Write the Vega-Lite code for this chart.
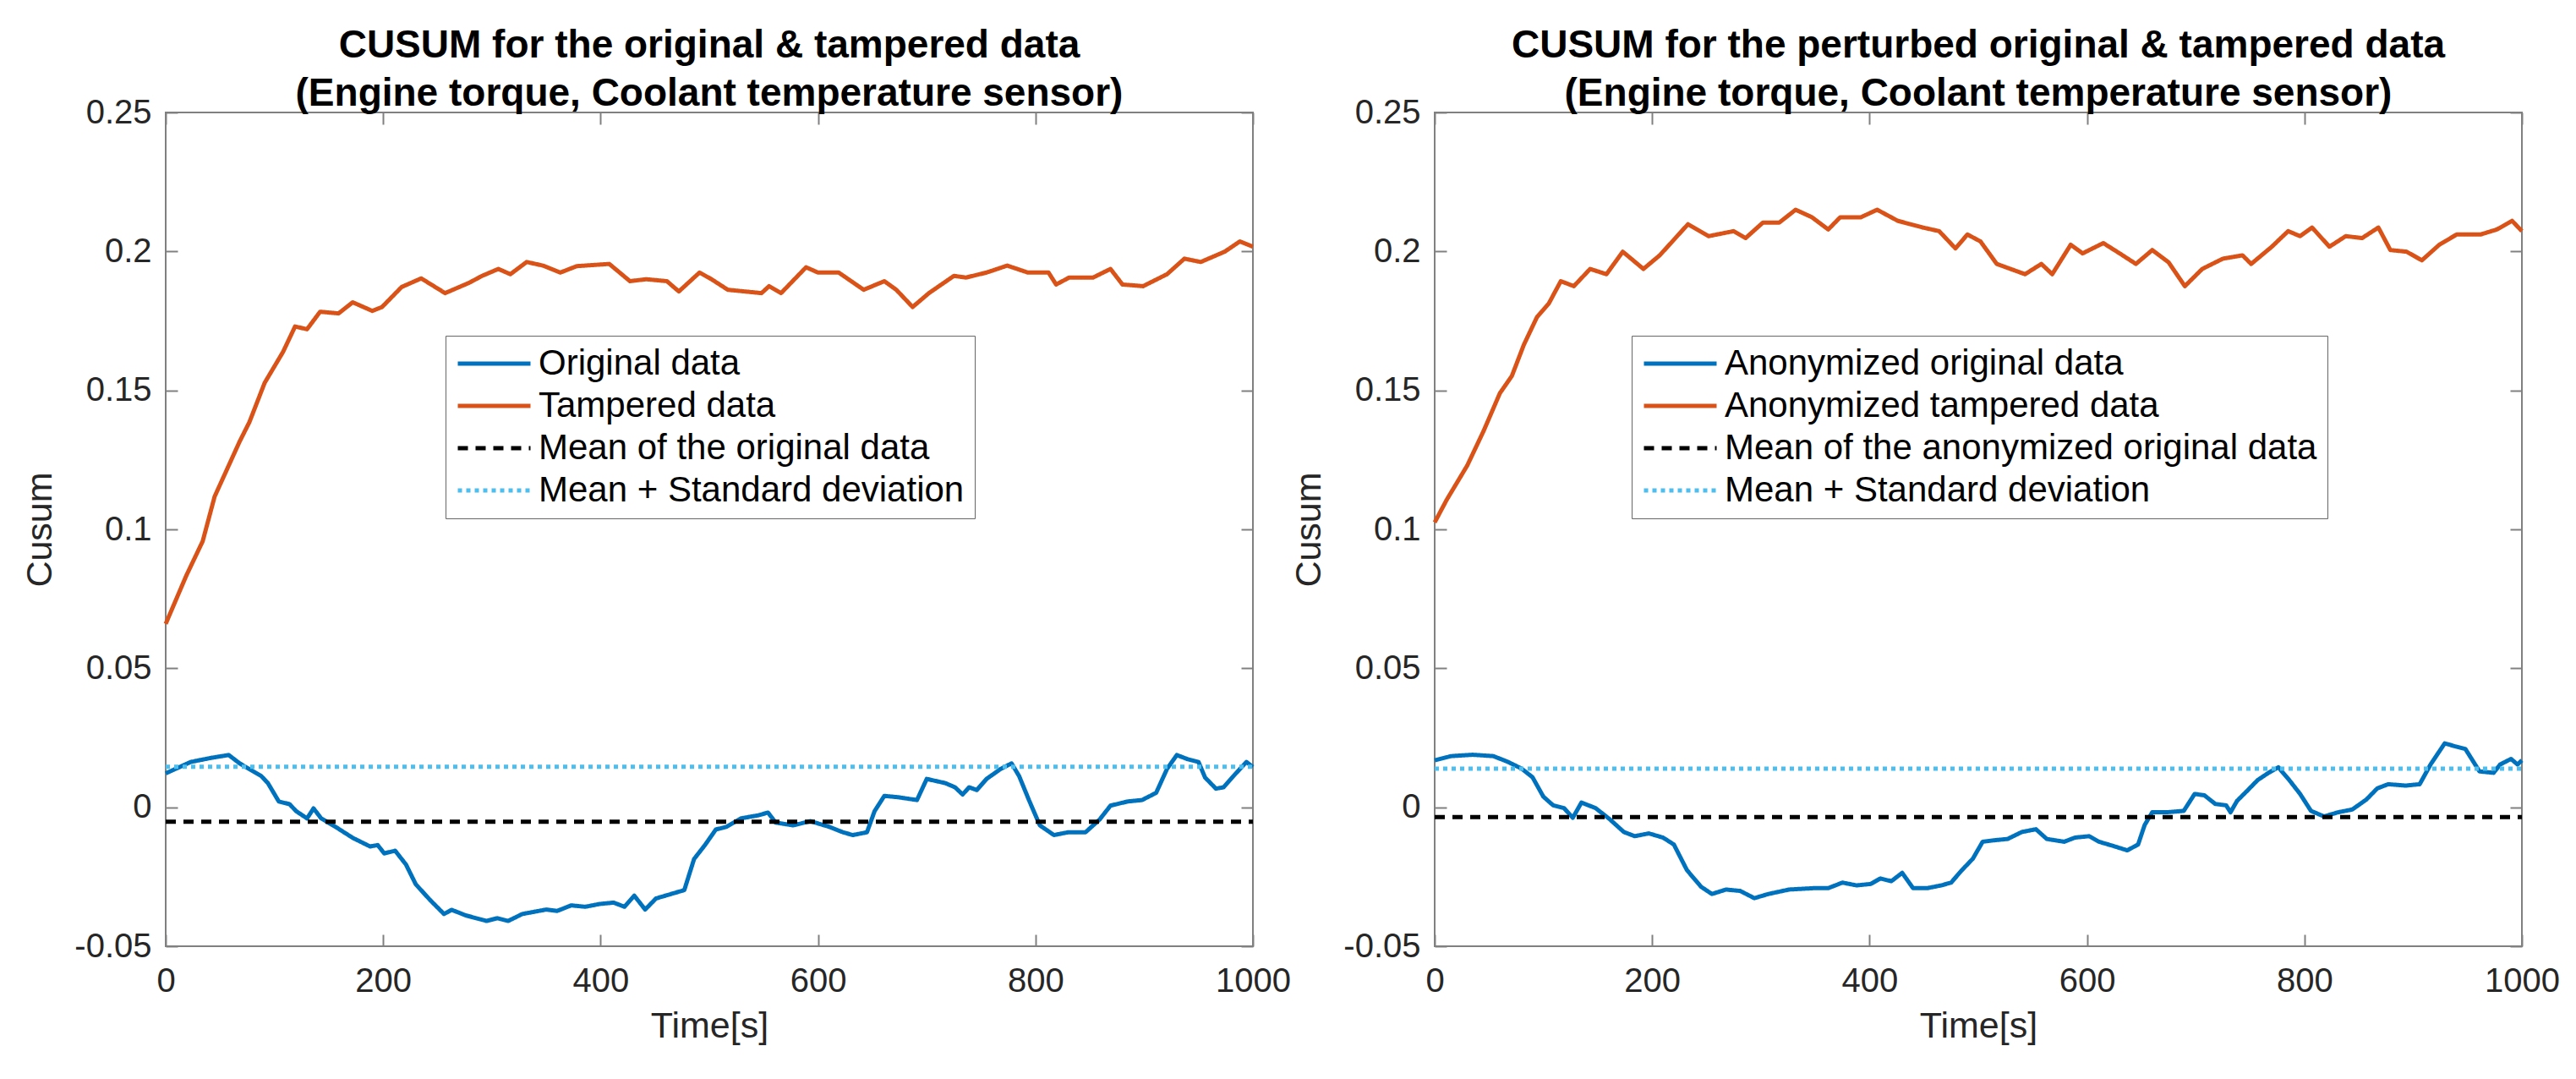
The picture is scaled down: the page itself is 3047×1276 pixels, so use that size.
{
  "$schema": "https://vega.github.io/schema/vega-lite/v6.json",
  "background": "white",
  "padding": {"left": 25, "top": 30, "right": 10, "bottom": 10},
  "spacing": 215,
  "bounds": "flush",
  "datasets": {
    "leftLines": [
      {"s": "Tampered data", "t": 0, "v": 0.066},
      {"s": "Tampered data", "t": 19, "v": 0.0834},
      {"s": "Tampered data", "t": 34, "v": 0.0957},
      {"s": "Tampered data", "t": 45, "v": 0.1118},
      {"s": "Tampered data", "t": 68, "v": 0.1316},
      {"s": "Tampered data", "t": 77, "v": 0.1386},
      {"s": "Tampered data", "t": 91, "v": 0.1527},
      {"s": "Tampered data", "t": 108, "v": 0.1639},
      {"s": "Tampered data", "t": 119, "v": 0.173},
      {"s": "Tampered data", "t": 130, "v": 0.172},
      {"s": "Tampered data", "t": 142, "v": 0.1783},
      {"s": "Tampered data", "t": 159, "v": 0.1777},
      {"s": "Tampered data", "t": 172, "v": 0.1817},
      {"s": "Tampered data", "t": 190, "v": 0.1786},
      {"s": "Tampered data", "t": 199, "v": 0.180},
      {"s": "Tampered data", "t": 217, "v": 0.1872},
      {"s": "Tampered data", "t": 235, "v": 0.1903},
      {"s": "Tampered data", "t": 257, "v": 0.185},
      {"s": "Tampered data", "t": 279, "v": 0.1887},
      {"s": "Tampered data", "t": 291, "v": 0.1912},
      {"s": "Tampered data", "t": 306, "v": 0.1937},
      {"s": "Tampered data", "t": 317, "v": 0.1918},
      {"s": "Tampered data", "t": 332, "v": 0.1962},
      {"s": "Tampered data", "t": 347, "v": 0.1949},
      {"s": "Tampered data", "t": 363, "v": 0.1924},
      {"s": "Tampered data", "t": 378, "v": 0.1947},
      {"s": "Tampered data", "t": 408, "v": 0.1955},
      {"s": "Tampered data", "t": 427, "v": 0.1893},
      {"s": "Tampered data", "t": 442, "v": 0.19},
      {"s": "Tampered data", "t": 461, "v": 0.1893},
      {"s": "Tampered data", "t": 472, "v": 0.1856},
      {"s": "Tampered data", "t": 491, "v": 0.1924},
      {"s": "Tampered data", "t": 502, "v": 0.19},
      {"s": "Tampered data", "t": 517, "v": 0.1862},
      {"s": "Tampered data", "t": 548, "v": 0.185},
      {"s": "Tampered data", "t": 555, "v": 0.1875},
      {"s": "Tampered data", "t": 566, "v": 0.185},
      {"s": "Tampered data", "t": 589, "v": 0.1943},
      {"s": "Tampered data", "t": 600, "v": 0.1924},
      {"s": "Tampered data", "t": 619, "v": 0.1924},
      {"s": "Tampered data", "t": 642, "v": 0.1862},
      {"s": "Tampered data", "t": 661, "v": 0.1893},
      {"s": "Tampered data", "t": 672, "v": 0.1862},
      {"s": "Tampered data", "t": 687, "v": 0.18},
      {"s": "Tampered data", "t": 702, "v": 0.185},
      {"s": "Tampered data", "t": 725, "v": 0.1912},
      {"s": "Tampered data", "t": 736, "v": 0.1906},
      {"s": "Tampered data", "t": 755, "v": 0.1924},
      {"s": "Tampered data", "t": 774, "v": 0.1949},
      {"s": "Tampered data", "t": 793, "v": 0.1924},
      {"s": "Tampered data", "t": 812, "v": 0.1924},
      {"s": "Tampered data", "t": 819, "v": 0.1881},
      {"s": "Tampered data", "t": 831, "v": 0.1906},
      {"s": "Tampered data", "t": 853, "v": 0.1906},
      {"s": "Tampered data", "t": 869, "v": 0.1937},
      {"s": "Tampered data", "t": 880, "v": 0.1881},
      {"s": "Tampered data", "t": 899, "v": 0.1875},
      {"s": "Tampered data", "t": 921, "v": 0.1918},
      {"s": "Tampered data", "t": 937, "v": 0.1974},
      {"s": "Tampered data", "t": 952, "v": 0.1962},
      {"s": "Tampered data", "t": 974, "v": 0.1999},
      {"s": "Tampered data", "t": 988, "v": 0.2036},
      {"s": "Tampered data", "t": 1000, "v": 0.2017},
      {"s": "Original data", "t": 0, "v": 0.0122},
      {"s": "Original data", "t": 23, "v": 0.0163},
      {"s": "Original data", "t": 42, "v": 0.0178},
      {"s": "Original data", "t": 58, "v": 0.0188},
      {"s": "Original data", "t": 68, "v": 0.0158},
      {"s": "Original data", "t": 88, "v": 0.0112},
      {"s": "Original data", "t": 94, "v": 0.0087},
      {"s": "Original data", "t": 104, "v": 0.0021},
      {"s": "Original data", "t": 114, "v": 0.0011},
      {"s": "Original data", "t": 120, "v": -0.0014},
      {"s": "Original data", "t": 130, "v": -0.004},
      {"s": "Original data", "t": 136, "v": -0.0004},
      {"s": "Original data", "t": 143, "v": -0.004},
      {"s": "Original data", "t": 156, "v": -0.007},
      {"s": "Original data", "t": 172, "v": -0.011},
      {"s": "Original data", "t": 188, "v": -0.0141},
      {"s": "Original data", "t": 195, "v": -0.0136},
      {"s": "Original data", "t": 201, "v": -0.0166},
      {"s": "Original data", "t": 211, "v": -0.0156},
      {"s": "Original data", "t": 221, "v": -0.0206},
      {"s": "Original data", "t": 230, "v": -0.0277},
      {"s": "Original data", "t": 243, "v": -0.0333},
      {"s": "Original data", "t": 256, "v": -0.0384},
      {"s": "Original data", "t": 263, "v": -0.0369},
      {"s": "Original data", "t": 276, "v": -0.0389},
      {"s": "Original data", "t": 295, "v": -0.0409},
      {"s": "Original data", "t": 305, "v": -0.0399},
      {"s": "Original data", "t": 315, "v": -0.0409},
      {"s": "Original data", "t": 328, "v": -0.0384},
      {"s": "Original data", "t": 350, "v": -0.0368},
      {"s": "Original data", "t": 360, "v": -0.0373},
      {"s": "Original data", "t": 373, "v": -0.0353},
      {"s": "Original data", "t": 386, "v": -0.0358},
      {"s": "Original data", "t": 399, "v": -0.0348},
      {"s": "Original data", "t": 412, "v": -0.0343},
      {"s": "Original data", "t": 422, "v": -0.0358},
      {"s": "Original data", "t": 431, "v": -0.0318},
      {"s": "Original data", "t": 441, "v": -0.0368},
      {"s": "Original data", "t": 451, "v": -0.0328},
      {"s": "Original data", "t": 464, "v": -0.0313},
      {"s": "Original data", "t": 477, "v": -0.0298},
      {"s": "Original data", "t": 486, "v": -0.0186},
      {"s": "Original data", "t": 496, "v": -0.0136},
      {"s": "Original data", "t": 506, "v": -0.008},
      {"s": "Original data", "t": 516, "v": -0.007},
      {"s": "Original data", "t": 529, "v": -0.004},
      {"s": "Original data", "t": 545, "v": -0.0029},
      {"s": "Original data", "t": 554, "v": -0.0019},
      {"s": "Original data", "t": 561, "v": -0.0055},
      {"s": "Original data", "t": 577, "v": -0.0065},
      {"s": "Original data", "t": 593, "v": -0.005},
      {"s": "Original data", "t": 610, "v": -0.007},
      {"s": "Original data", "t": 623, "v": -0.009},
      {"s": "Original data", "t": 632, "v": -0.01},
      {"s": "Original data", "t": 645, "v": -0.009},
      {"s": "Original data", "t": 652, "v": -0.0014},
      {"s": "Original data", "t": 661, "v": 0.0041},
      {"s": "Original data", "t": 674, "v": 0.0036},
      {"s": "Original data", "t": 691, "v": 0.0026},
      {"s": "Original data", "t": 700, "v": 0.0102},
      {"s": "Original data", "t": 717, "v": 0.0087},
      {"s": "Original data", "t": 726, "v": 0.0072},
      {"s": "Original data", "t": 733, "v": 0.0046},
      {"s": "Original data", "t": 739, "v": 0.0072},
      {"s": "Original data", "t": 746, "v": 0.0062},
      {"s": "Original data", "t": 755, "v": 0.0102},
      {"s": "Original data", "t": 768, "v": 0.0138},
      {"s": "Original data", "t": 778, "v": 0.0158},
      {"s": "Original data", "t": 785, "v": 0.0112},
      {"s": "Original data", "t": 794, "v": 0.0026},
      {"s": "Original data", "t": 804, "v": -0.0065},
      {"s": "Original data", "t": 817, "v": -0.01},
      {"s": "Original data", "t": 830, "v": -0.009},
      {"s": "Original data", "t": 846, "v": -0.009},
      {"s": "Original data", "t": 859, "v": -0.0044},
      {"s": "Original data", "t": 869, "v": 0.0006},
      {"s": "Original data", "t": 885, "v": 0.0021},
      {"s": "Original data", "t": 898, "v": 0.0026},
      {"s": "Original data", "t": 911, "v": 0.0052},
      {"s": "Original data", "t": 921, "v": 0.0138},
      {"s": "Original data", "t": 930, "v": 0.0188},
      {"s": "Original data", "t": 940, "v": 0.0173},
      {"s": "Original data", "t": 950, "v": 0.0163},
      {"s": "Original data", "t": 956, "v": 0.0107},
      {"s": "Original data", "t": 966, "v": 0.0067},
      {"s": "Original data", "t": 973, "v": 0.0072},
      {"s": "Original data", "t": 982, "v": 0.0112},
      {"s": "Original data", "t": 994, "v": 0.0163},
      {"s": "Original data", "t": 1000, "v": 0.0145}
    ],
    "leftMeans": [
      {"s": "Mean of the original data", "t0": 0, "t1": 1000, "v": -0.0052},
      {"s": "Mean + Standard deviation", "t0": 0, "t1": 1000, "v": 0.0146}
    ],
    "rightLines": [
      {"s": "Anonymized tampered data", "t": 0, "v": 0.1025},
      {"s": "Anonymized tampered data", "t": 11, "v": 0.1106},
      {"s": "Anonymized tampered data", "t": 30, "v": 0.123},
      {"s": "Anonymized tampered data", "t": 45, "v": 0.1354},
      {"s": "Anonymized tampered data", "t": 60, "v": 0.149},
      {"s": "Anonymized tampered data", "t": 71, "v": 0.1552},
      {"s": "Anonymized tampered data", "t": 82, "v": 0.1664},
      {"s": "Anonymized tampered data", "t": 94, "v": 0.1763},
      {"s": "Anonymized tampered data", "t": 105, "v": 0.1813},
      {"s": "Anonymized tampered data", "t": 116, "v": 0.1893},
      {"s": "Anonymized tampered data", "t": 128, "v": 0.1875},
      {"s": "Anonymized tampered data", "t": 143, "v": 0.1937},
      {"s": "Anonymized tampered data", "t": 158, "v": 0.1918},
      {"s": "Anonymized tampered data", "t": 173, "v": 0.1999},
      {"s": "Anonymized tampered data", "t": 192, "v": 0.1937},
      {"s": "Anonymized tampered data", "t": 207, "v": 0.1986},
      {"s": "Anonymized tampered data", "t": 233, "v": 0.2098},
      {"s": "Anonymized tampered data", "t": 252, "v": 0.2055},
      {"s": "Anonymized tampered data", "t": 275, "v": 0.2073},
      {"s": "Anonymized tampered data", "t": 286, "v": 0.2048},
      {"s": "Anonymized tampered data", "t": 302, "v": 0.2104},
      {"s": "Anonymized tampered data", "t": 317, "v": 0.2104},
      {"s": "Anonymized tampered data", "t": 332, "v": 0.215},
      {"s": "Anonymized tampered data", "t": 347, "v": 0.2123},
      {"s": "Anonymized tampered data", "t": 362, "v": 0.2079},
      {"s": "Anonymized tampered data", "t": 373, "v": 0.2123},
      {"s": "Anonymized tampered data", "t": 392, "v": 0.2123},
      {"s": "Anonymized tampered data", "t": 407, "v": 0.215},
      {"s": "Anonymized tampered data", "t": 426, "v": 0.211},
      {"s": "Anonymized tampered data", "t": 449, "v": 0.2086},
      {"s": "Anonymized tampered data", "t": 464, "v": 0.2073},
      {"s": "Anonymized tampered data", "t": 479, "v": 0.2011},
      {"s": "Anonymized tampered data", "t": 490, "v": 0.2061},
      {"s": "Anonymized tampered data", "t": 502, "v": 0.2036},
      {"s": "Anonymized tampered data", "t": 517, "v": 0.1955},
      {"s": "Anonymized tampered data", "t": 543, "v": 0.1918},
      {"s": "Anonymized tampered data", "t": 558, "v": 0.1955},
      {"s": "Anonymized tampered data", "t": 568, "v": 0.1918},
      {"s": "Anonymized tampered data", "t": 585, "v": 0.2024},
      {"s": "Anonymized tampered data", "t": 596, "v": 0.1993},
      {"s": "Anonymized tampered data", "t": 615, "v": 0.203},
      {"s": "Anonymized tampered data", "t": 630, "v": 0.1993},
      {"s": "Anonymized tampered data", "t": 645, "v": 0.1955},
      {"s": "Anonymized tampered data", "t": 660, "v": 0.2005},
      {"s": "Anonymized tampered data", "t": 675, "v": 0.1961},
      {"s": "Anonymized tampered data", "t": 690, "v": 0.1875},
      {"s": "Anonymized tampered data", "t": 706, "v": 0.1937},
      {"s": "Anonymized tampered data", "t": 725, "v": 0.1974},
      {"s": "Anonymized tampered data", "t": 743, "v": 0.1986},
      {"s": "Anonymized tampered data", "t": 751, "v": 0.1955},
      {"s": "Anonymized tampered data", "t": 770, "v": 0.2017},
      {"s": "Anonymized tampered data", "t": 785, "v": 0.2073},
      {"s": "Anonymized tampered data", "t": 796, "v": 0.2055},
      {"s": "Anonymized tampered data", "t": 807, "v": 0.2086},
      {"s": "Anonymized tampered data", "t": 823, "v": 0.2017},
      {"s": "Anonymized tampered data", "t": 838, "v": 0.2055},
      {"s": "Anonymized tampered data", "t": 853, "v": 0.2048},
      {"s": "Anonymized tampered data", "t": 868, "v": 0.2086},
      {"s": "Anonymized tampered data", "t": 879, "v": 0.2005},
      {"s": "Anonymized tampered data", "t": 894, "v": 0.1999},
      {"s": "Anonymized tampered data", "t": 908, "v": 0.1968},
      {"s": "Anonymized tampered data", "t": 924, "v": 0.2024},
      {"s": "Anonymized tampered data", "t": 940, "v": 0.2061},
      {"s": "Anonymized tampered data", "t": 962, "v": 0.2061},
      {"s": "Anonymized tampered data", "t": 977, "v": 0.2079},
      {"s": "Anonymized tampered data", "t": 991, "v": 0.211},
      {"s": "Anonymized tampered data", "t": 1000, "v": 0.2073},
      {"s": "Anonymized original data", "t": 0, "v": 0.0169},
      {"s": "Anonymized original data", "t": 15, "v": 0.0184},
      {"s": "Anonymized original data", "t": 35, "v": 0.0189},
      {"s": "Anonymized original data", "t": 54, "v": 0.0184},
      {"s": "Anonymized original data", "t": 67, "v": 0.0164},
      {"s": "Anonymized original data", "t": 80, "v": 0.0139},
      {"s": "Anonymized original data", "t": 90, "v": 0.0108},
      {"s": "Anonymized original data", "t": 100, "v": 0.0038},
      {"s": "Anonymized original data", "t": 109, "v": 0.0007},
      {"s": "Anonymized original data", "t": 119, "v": -0.0003},
      {"s": "Anonymized original data", "t": 127, "v": -0.0038},
      {"s": "Anonymized original data", "t": 135, "v": 0.0017},
      {"s": "Anonymized original data", "t": 148, "v": -0.0003},
      {"s": "Anonymized original data", "t": 161, "v": -0.0043},
      {"s": "Anonymized original data", "t": 174, "v": -0.0089},
      {"s": "Anonymized original data", "t": 184, "v": -0.0104},
      {"s": "Anonymized original data", "t": 197, "v": -0.0094},
      {"s": "Anonymized original data", "t": 210, "v": -0.0109},
      {"s": "Anonymized original data", "t": 220, "v": -0.0134},
      {"s": "Anonymized original data", "t": 232, "v": -0.0226},
      {"s": "Anonymized original data", "t": 245, "v": -0.0286},
      {"s": "Anonymized original data", "t": 255, "v": -0.0312},
      {"s": "Anonymized original data", "t": 268, "v": -0.0296},
      {"s": "Anonymized original data", "t": 281, "v": -0.0301},
      {"s": "Anonymized original data", "t": 294, "v": -0.0327},
      {"s": "Anonymized original data", "t": 307, "v": -0.0312},
      {"s": "Anonymized original data", "t": 326, "v": -0.0296},
      {"s": "Anonymized original data", "t": 349, "v": -0.0291},
      {"s": "Anonymized original data", "t": 362, "v": -0.0291},
      {"s": "Anonymized original data", "t": 375, "v": -0.0271},
      {"s": "Anonymized original data", "t": 388, "v": -0.0281},
      {"s": "Anonymized original data", "t": 401, "v": -0.0276},
      {"s": "Anonymized original data", "t": 410, "v": -0.0256},
      {"s": "Anonymized original data", "t": 420, "v": -0.0266},
      {"s": "Anonymized original data", "t": 430, "v": -0.0236},
      {"s": "Anonymized original data", "t": 440, "v": -0.0291},
      {"s": "Anonymized original data", "t": 453, "v": -0.0291},
      {"s": "Anonymized original data", "t": 466, "v": -0.0281},
      {"s": "Anonymized original data", "t": 475, "v": -0.0271},
      {"s": "Anonymized original data", "t": 485, "v": -0.0226},
      {"s": "Anonymized original data", "t": 495, "v": -0.0185},
      {"s": "Anonymized original data", "t": 504, "v": -0.0124},
      {"s": "Anonymized original data", "t": 514, "v": -0.0119},
      {"s": "Anonymized original data", "t": 527, "v": -0.0114},
      {"s": "Anonymized original data", "t": 540, "v": -0.0089},
      {"s": "Anonymized original data", "t": 553, "v": -0.0079},
      {"s": "Anonymized original data", "t": 563, "v": -0.0114},
      {"s": "Anonymized original data", "t": 579, "v": -0.0124},
      {"s": "Anonymized original data", "t": 589, "v": -0.0109},
      {"s": "Anonymized original data", "t": 602, "v": -0.0104},
      {"s": "Anonymized original data", "t": 611, "v": -0.0124},
      {"s": "Anonymized original data", "t": 624, "v": -0.0139},
      {"s": "Anonymized original data", "t": 637, "v": -0.0155},
      {"s": "Anonymized original data", "t": 647, "v": -0.0134},
      {"s": "Anonymized original data", "t": 653, "v": -0.0064},
      {"s": "Anonymized original data", "t": 660, "v": -0.0018},
      {"s": "Anonymized original data", "t": 673, "v": -0.0018},
      {"s": "Anonymized original data", "t": 689, "v": -0.0013},
      {"s": "Anonymized original data", "t": 699, "v": 0.0048},
      {"s": "Anonymized original data", "t": 708, "v": 0.0043},
      {"s": "Anonymized original data", "t": 718, "v": 0.0012},
      {"s": "Anonymized original data", "t": 728, "v": 0.0007},
      {"s": "Anonymized original data", "t": 732, "v": -0.0018},
      {"s": "Anonymized original data", "t": 738, "v": 0.0023},
      {"s": "Anonymized original data", "t": 747, "v": 0.0058},
      {"s": "Anonymized original data", "t": 757, "v": 0.0098},
      {"s": "Anonymized original data", "t": 767, "v": 0.0124},
      {"s": "Anonymized original data", "t": 776, "v": 0.0144},
      {"s": "Anonymized original data", "t": 786, "v": 0.0098},
      {"s": "Anonymized original data", "t": 796, "v": 0.0048},
      {"s": "Anonymized original data", "t": 806, "v": -0.0013},
      {"s": "Anonymized original data", "t": 818, "v": -0.0033},
      {"s": "Anonymized original data", "t": 831, "v": -0.0018},
      {"s": "Anonymized original data", "t": 844, "v": -0.0008},
      {"s": "Anonymized original data", "t": 857, "v": 0.0028},
      {"s": "Anonymized original data", "t": 867, "v": 0.0068},
      {"s": "Anonymized original data", "t": 877, "v": 0.0083},
      {"s": "Anonymized original data", "t": 893, "v": 0.0078},
      {"s": "Anonymized original data", "t": 906, "v": 0.0083},
      {"s": "Anonymized original data", "t": 916, "v": 0.0154},
      {"s": "Anonymized original data", "t": 929, "v": 0.023},
      {"s": "Anonymized original data", "t": 938, "v": 0.022},
      {"s": "Anonymized original data", "t": 948, "v": 0.021},
      {"s": "Anonymized original data", "t": 961, "v": 0.0129},
      {"s": "Anonymized original data", "t": 974, "v": 0.0124},
      {"s": "Anonymized original data", "t": 980, "v": 0.0154},
      {"s": "Anonymized original data", "t": 990, "v": 0.0174},
      {"s": "Anonymized original data", "t": 996, "v": 0.0154},
      {"s": "Anonymized original data", "t": 1000, "v": 0.0169}
    ],
    "rightMeans": [
      {"s": "Mean of the anonymized original data", "t0": 0, "t1": 1000, "v": -0.0035},
      {"s": "Mean + Standard deviation", "t0": 0, "t1": 1000, "v": 0.0139}
    ]
  },
  "hconcat": [
    {
      "width": 1286,
      "height": 986,
      "title": {
        "text": ["CUSUM for the original & tampered data", "(Engine torque, Coolant temperature sensor)"],
        "fontSize": 46, "fontWeight": "bold", "color": "#000000", "font": "Liberation Sans",
        "lineHeight": 57, "anchor": "middle", "frame": "group", "offset": -22
      },
      "resolve": {"axis": {"x": "independent", "y": "independent"}},
      "layer": [
        {
          "data": {"name": "leftLines"},
          "mark": {"type": "line", "strokeJoin": "round"},
          "encoding": {
            "x": {"field": "t", "type": "quantitative", "scale": {"domain": [0, 1000], "nice": false, "zero": false},
              "axis": {"orient": "bottom", "values": [0, 200, 400, 600, 800, 1000], "labelExpr": "toString(datum.value)", "title": "Time[s]", "offset": -14, "labelPadding": 21, "titlePadding": 12}},
            "y": {"field": "v", "type": "quantitative", "scale": {"domain": [-0.05, 0.25], "nice": false, "zero": false},
              "axis": {"orient": "left", "values": [-0.05, 0, 0.05, 0.1, 0.15, 0.2, 0.25], "labelExpr": "toString(datum.value)", "title": "Cusum", "offset": -14, "labelPadding": 17, "titlePadding": 18}},
            "color": {"field": "s", "type": "nominal",
              "scale": {"domain": ["Original data", "Tampered data", "Mean of the original data", "Mean + Standard deviation"], "range": ["#0072BD", "#D95319", "#000000", "#4DBEEE"]},
              "legend": {"legendX": 331, "legendY": 264}},
            "strokeDash": {"field": "s", "type": "nominal",
              "scale": {"domain": ["Original data", "Tampered data", "Mean of the original data", "Mean + Standard deviation"], "range": [[1, 0], [1, 0], [12, 9], [5, 5]]},
              "legend": {"legendX": 331, "legendY": 264}},
            "strokeWidth": {"field": "s", "type": "ordinal",
              "scale": {"domain": ["Original data", "Tampered data", "Mean of the original data", "Mean + Standard deviation"], "range": [5, 5, 3, 5]},
              "legend": {"legendX": 331, "legendY": 264}}
          }
        },
        {
          "data": {"name": "leftMeans"},
          "mark": {"type": "rule"},
          "encoding": {
            "x": {"field": "t0", "type": "quantitative", "scale": {"domain": [0, 1000], "nice": false, "zero": false},
              "axis": {"orient": "top", "values": [0, 200, 400, 600, 800, 1000], "labels": false, "title": null, "offset": -14}},
            "x2": {"field": "t1"},
            "y": {"field": "v", "type": "quantitative", "scale": {"domain": [-0.05, 0.25], "nice": false, "zero": false},
              "axis": {"orient": "right", "values": [-0.05, 0, 0.05, 0.1, 0.15, 0.2, 0.25], "labels": false, "title": null, "offset": -14}},
            "color": {"field": "s", "type": "nominal",
              "scale": {"domain": ["Original data", "Tampered data", "Mean of the original data", "Mean + Standard deviation"], "range": ["#0072BD", "#D95319", "#000000", "#4DBEEE"]},
              "legend": {"legendX": 331, "legendY": 264}},
            "strokeDash": {"field": "s", "type": "nominal",
              "scale": {"domain": ["Original data", "Tampered data", "Mean of the original data", "Mean + Standard deviation"], "range": [[1, 0], [1, 0], [12, 9], [5, 5]]},
              "legend": {"legendX": 331, "legendY": 264}},
            "strokeWidth": {"field": "s", "type": "ordinal",
              "scale": {"domain": ["Original data", "Tampered data", "Mean of the original data", "Mean + Standard deviation"], "range": [5, 5, 3, 5]},
              "legend": {"legendX": 331, "legendY": 264}}
          }
        }
      ]
    },
    {
      "width": 1286,
      "height": 986,
      "title": {
        "text": ["CUSUM for the perturbed original & tampered data", "(Engine torque, Coolant temperature sensor)"],
        "fontSize": 46, "fontWeight": "bold", "color": "#000000", "font": "Liberation Sans",
        "lineHeight": 57, "anchor": "middle", "frame": "group", "offset": -22
      },
      "resolve": {"axis": {"x": "independent", "y": "independent"}},
      "layer": [
        {
          "data": {"name": "rightLines"},
          "mark": {"type": "line", "strokeJoin": "round"},
          "encoding": {
            "x": {"field": "t", "type": "quantitative", "scale": {"domain": [0, 1000], "nice": false, "zero": false},
              "axis": {"orient": "bottom", "values": [0, 200, 400, 600, 800, 1000], "labelExpr": "toString(datum.value)", "title": "Time[s]", "offset": -14, "labelPadding": 21, "titlePadding": 12}},
            "y": {"field": "v", "type": "quantitative", "scale": {"domain": [-0.05, 0.25], "nice": false, "zero": false},
              "axis": {"orient": "left", "values": [-0.05, 0, 0.05, 0.1, 0.15, 0.2, 0.25], "labelExpr": "toString(datum.value)", "title": "Cusum", "offset": -14, "labelPadding": 17, "titlePadding": 18}},
            "color": {"field": "s", "type": "nominal",
              "scale": {"domain": ["Anonymized original data", "Anonymized tampered data", "Mean of the anonymized original data", "Mean + Standard deviation"], "range": ["#0072BD", "#D95319", "#000000", "#4DBEEE"]},
              "legend": {"legendX": 233, "legendY": 264}},
            "strokeDash": {"field": "s", "type": "nominal",
              "scale": {"domain": ["Anonymized original data", "Anonymized tampered data", "Mean of the anonymized original data", "Mean + Standard deviation"], "range": [[1, 0], [1, 0], [12, 9], [5, 5]]},
              "legend": {"legendX": 233, "legendY": 264}},
            "strokeWidth": {"field": "s", "type": "ordinal",
              "scale": {"domain": ["Anonymized original data", "Anonymized tampered data", "Mean of the anonymized original data", "Mean + Standard deviation"], "range": [5, 5, 3, 5]},
              "legend": {"legendX": 233, "legendY": 264}}
          }
        },
        {
          "data": {"name": "rightMeans"},
          "mark": {"type": "rule"},
          "encoding": {
            "x": {"field": "t0", "type": "quantitative", "scale": {"domain": [0, 1000], "nice": false, "zero": false},
              "axis": {"orient": "top", "values": [0, 200, 400, 600, 800, 1000], "labels": false, "title": null, "offset": -14}},
            "x2": {"field": "t1"},
            "y": {"field": "v", "type": "quantitative", "scale": {"domain": [-0.05, 0.25], "nice": false, "zero": false},
              "axis": {"orient": "right", "values": [-0.05, 0, 0.05, 0.1, 0.15, 0.2, 0.25], "labels": false, "title": null, "offset": -14}},
            "color": {"field": "s", "type": "nominal",
              "scale": {"domain": ["Anonymized original data", "Anonymized tampered data", "Mean of the anonymized original data", "Mean + Standard deviation"], "range": ["#0072BD", "#D95319", "#000000", "#4DBEEE"]},
              "legend": {"legendX": 233, "legendY": 264}},
            "strokeDash": {"field": "s", "type": "nominal",
              "scale": {"domain": ["Anonymized original data", "Anonymized tampered data", "Mean of the anonymized original data", "Mean + Standard deviation"], "range": [[1, 0], [1, 0], [12, 9], [5, 5]]},
              "legend": {"legendX": 233, "legendY": 264}},
            "strokeWidth": {"field": "s", "type": "ordinal",
              "scale": {"domain": ["Anonymized original data", "Anonymized tampered data", "Mean of the anonymized original data", "Mean + Standard deviation"], "range": [5, 5, 3, 5]},
              "legend": {"legendX": 233, "legendY": 264}}
          }
        }
      ]
    }
  ],
  "resolve": {
    "scale": {"x": "independent", "y": "independent", "color": "independent", "strokeDash": "independent", "strokeWidth": "independent"},
    "legend": {"color": "independent", "strokeDash": "independent", "strokeWidth": "independent"}
  },
  "config": {
    "font": "Liberation Sans",
    "view": {"stroke": "#808080", "strokeWidth": 2},
    "axis": {
      "grid": false, "domain": false, "tickColor": "#808080", "tickWidth": 2, "tickSize": 14,
      "labelFont": "Liberation Sans", "labelFontSize": 40, "labelColor": "#262626", "labelFlush": false, "labelOverlap": false,
      "titleFont": "Liberation Sans", "titleFontSize": 43, "titleFontWeight": "normal", "titleColor": "#262626"
    },
    "legend": {
      "orient": "none", "title": null, "direction": "vertical",
      "symbolType": "stroke", "symbolSize": 7396, "clipHeight": 42,
      "labelFont": "Liberation Sans", "labelFontSize": 42, "labelColor": "#000000", "labelLimit": 2000, "labelOffset": 7,
      "strokeColor": "#666666", "fillColor": "#ffffff", "padding": 12, "rowPadding": 8
    }
  }
}
